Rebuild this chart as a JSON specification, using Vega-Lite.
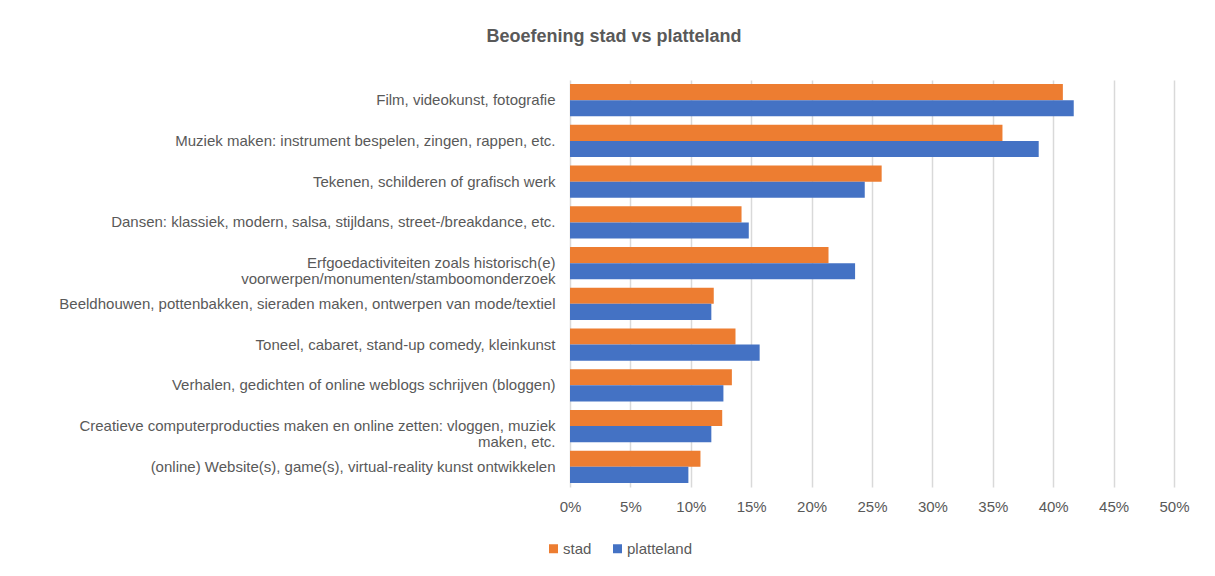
{
  "$schema": "https://vega.github.io/schema/vega-lite/v6.json",
  "autosize": {"type": "none"},
  "width": 604,
  "height": 407,
  "padding": {"left": 570, "top": 80, "right": 41, "bottom": 89},
  "background": "white",
  "title": {
    "text": "Beoefening stad vs platteland",
    "anchor": "middle",
    "frame": "group",
    "dx": -258,
    "offset": 34,
    "fontSize": 18,
    "font": "Liberation Sans",
    "fontWeight": "bold",
    "color": "#595959"
  },
  "data": {
    "values": [
      {"activiteit": "Film, videokunst, fotografie ", "groep": "stad", "aandeel": 0.408},
      {"activiteit": "Film, videokunst, fotografie ", "groep": "platteland", "aandeel": 0.417},
      {"activiteit": "Muziek maken: instrument bespelen, zingen, rappen, etc.", "groep": "stad", "aandeel": 0.358},
      {"activiteit": "Muziek maken: instrument bespelen, zingen, rappen, etc.", "groep": "platteland", "aandeel": 0.388},
      {"activiteit": "Tekenen, schilderen of grafisch werk", "groep": "stad", "aandeel": 0.258},
      {"activiteit": "Tekenen, schilderen of grafisch werk", "groep": "platteland", "aandeel": 0.244},
      {"activiteit": "Dansen: klassiek, modern, salsa, stijldans, street-/breakdance, etc.", "groep": "stad", "aandeel": 0.142},
      {"activiteit": "Dansen: klassiek, modern, salsa, stijldans, street-/breakdance, etc.", "groep": "platteland", "aandeel": 0.148},
      {"activiteit": "Erfgoedactiviteiten zoals  historisch(e)|voorwerpen/monumenten/stamboomonderzoek", "groep": "stad", "aandeel": 0.214},
      {"activiteit": "Erfgoedactiviteiten zoals  historisch(e)|voorwerpen/monumenten/stamboomonderzoek", "groep": "platteland", "aandeel": 0.236},
      {"activiteit": "Beeldhouwen, pottenbakken, sieraden maken, ontwerpen van mode/textiel", "groep": "stad", "aandeel": 0.119},
      {"activiteit": "Beeldhouwen, pottenbakken, sieraden maken, ontwerpen van mode/textiel", "groep": "platteland", "aandeel": 0.117},
      {"activiteit": "Toneel, cabaret, stand-up comedy, kleinkunst", "groep": "stad", "aandeel": 0.137},
      {"activiteit": "Toneel, cabaret, stand-up comedy, kleinkunst", "groep": "platteland", "aandeel": 0.157},
      {"activiteit": "Verhalen, gedichten of online weblogs schrijven (bloggen)", "groep": "stad", "aandeel": 0.134},
      {"activiteit": "Verhalen, gedichten of online weblogs schrijven (bloggen)", "groep": "platteland", "aandeel": 0.127},
      {"activiteit": "Creatieve computerproducties maken en online zetten: vloggen, muziek|maken, etc.", "groep": "stad", "aandeel": 0.126},
      {"activiteit": "Creatieve computerproducties maken en online zetten: vloggen, muziek|maken, etc.", "groep": "platteland", "aandeel": 0.117},
      {"activiteit": "(online) Website(s), game(s), virtual-reality kunst ontwikkelen", "groep": "stad", "aandeel": 0.108},
      {"activiteit": "(online) Website(s), game(s), virtual-reality kunst ontwikkelen", "groep": "platteland", "aandeel": 0.098}
    ]
  },
  "mark": {"type": "bar"},
  "encoding": {
    "y": {
      "field": "activiteit",
      "type": "nominal",
      "sort": null,
      "title": null,
      "scale": {"paddingInner": 0.21, "paddingOuter": 0.1},
      "axis": {
        "labelExpr": "split(datum.label, '|')",
        "labelLimit": 600,
        "labelPadding": 15,
        "labelFontSize": 15,
        "labelFont": "Liberation Sans",
        "labelColor": "#595959",
        "labelLineHeight": 16,
        "ticks": false,
        "domain": false,
        "grid": false
      }
    },
    "yOffset": {
      "field": "groep",
      "type": "nominal",
      "sort": ["stad", "platteland"]
    },
    "x": {
      "field": "aandeel",
      "type": "quantitative",
      "title": null,
      "scale": {"domain": [0, 0.5], "nice": false},
      "axis": {
        "format": ".0%",
        "values": [0, 0.05, 0.1, 0.15, 0.2, 0.25, 0.3, 0.35, 0.4, 0.45, 0.5],
        "labelFontSize": 15,
        "labelFont": "Liberation Sans",
        "labelColor": "#595959",
        "labelPadding": 12,
        "labelFlush": false,
        "labelOverlap": false,
        "ticks": false,
        "domain": false,
        "grid": true,
        "gridColor": "#D9D9D9",
        "gridWidth": 1.5
      }
    },
    "color": {
      "field": "groep",
      "type": "nominal",
      "sort": ["stad", "platteland"],
      "scale": {"domain": ["stad", "platteland"], "range": ["#ED7D31", "#4472C4"]},
      "legend": {
        "title": null,
        "orient": "none",
        "direction": "horizontal",
        "legendX": -24,
        "legendY": 461,
        "symbolType": "square",
        "symbolSize": 81,
        "symbolStrokeWidth": 0,
        "labelFontSize": 15,
        "labelFont": "Liberation Sans",
        "labelColor": "#595959",
        "labelOffset": 2,
        "columnPadding": 18
      }
    }
  },
  "config": {"view": {"stroke": null}}
}
